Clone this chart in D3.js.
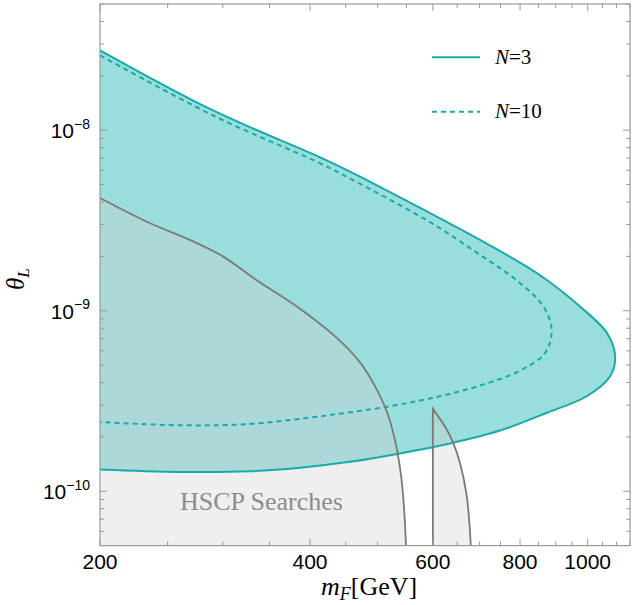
<html>
<head>
<script src="https://d3js.org/d3.v7.min.js"></script>
<style>
  body { margin: 0; background: #fff; }
  .tlabel { font-family: 'Liberation Sans', Arial, sans-serif; font-size: 21px; fill: #000; }
  .serif { font-family: 'Liberation Serif', 'Times New Roman', serif; }
</style>
</head>
<body>
<div id="chart"></div>
<script>
// N=3 contour: upper branch out to the nose, then lower branch back to 200 GeV
const n3Mass  = [200, 290, 413, 461, 594, 701, 819, 874, 975, 1065, 1095,
                 1077, 997, 874, 749, 635, 538, 456, 387, 328, 260, 200];
const n3Theta = [2.77e-8, 1.29e-8, 7.09e-9, 5.79e-9, 3.48e-9, 2.47e-9, 1.75e-9, 1.48e-9, 1.056e-9, 7.56e-10, 5.59e-10,
                 4.34e-10, 3.36e-10, 2.72e-10, 2.17e-10, 1.84e-10, 1.62e-10, 1.455e-10, 1.35e-10, 1.29e-10, 1.28e-10, 1.32e-10];

// N=10 contour (dashed)
const n10Mass  = [200, 290, 413, 461, 594, 701, 796, 864, 888, 869, 800, 701, 614, 521, 413, 328, 260, 200];
const n10Theta = [2.60e-8, 1.21e-8, 6.57e-9, 5.29e-9, 3.10e-9, 2.04e-9, 1.446e-9, 1.056e-9, 7.85e-10, 5.84e-10, 4.66e-10, 3.85e-10, 3.36e-10, 2.96e-10, 2.60e-10, 2.36e-10, 2.32e-10, 2.42e-10];

// HSCP exclusion boundaries
const hscpMass1  = [200, 236, 269, 300, 335, 383, 437, 472, 496, 516, 531, 541, 546, 549];
const hscpTheta1 = [4.21e-9, 3.05e-9, 2.47e-9, 2.0e-9, 1.48e-9, 1.056e-9, 7.07e-10, 5.16e-10, 3.80e-10, 2.73e-10, 1.82e-10, 1.165e-10, 7.65e-11, 5e-11];
const hscpMass2  = [600, 628, 641, 656, 671, 680];
const hscpTheta2 = [2.86e-10, 2.2e-10, 1.87e-10, 1.44e-10, 9.42e-11, 5e-11];

const xTickValues = [200, 400, 600, 800, 1000];
const yTickExps = [-10, -9, -8];
const legendN = ['3', '10'];

const width = 639, height = 605;
const margin = { top: 4, right: 9, bottom: 59.4, left: 100 };
const xMin = 200, xMax = 1150, yMin = 5e-11, yMax = 5e-8;

const teal = '#18aaaa', tealFill = '#99dedc', greyLine = '#7a7a7a', frameCol = '#9a9a9a';

const svg = d3.select('#chart').append('svg')
    .attr('width', width)
    .attr('height', height);

const x = d3.scaleLog().domain([xMin, xMax]).range([margin.left, width - margin.right]);
const y = d3.scaleLog().domain([yMin, yMax]).range([height - margin.bottom, margin.top]);

const zip = (ms, ts) => ms.map((m, i) => [m, ts[i]]);
const line = d3.line().x(d => x(d[0])).y(d => y(d[1])).curve(d3.curveCatmullRom.alpha(0.5));

svg.append('clipPath').attr('id', 'plot-clip')
  .append('rect')
    .attr('x', x(xMin)).attr('y', y(yMax))
    .attr('width', x(xMax) - x(xMin)).attr('height', y(yMin) - y(yMax));

const plot = svg.append('g').attr('clip-path', 'url(#plot-clip)');

// N=3 band
const n3Pts = zip(n3Mass, n3Theta);
plot.append('path')
    .attr('d', line(n3Pts) + 'Z')
    .attr('fill', tealFill);

// HSCP shaded regions (drawn over the band, translucent)
const h1 = zip(hscpMass1, hscpTheta1);
const h2 = zip(hscpMass2, hscpTheta2);
const h2Path = `M${x(600)},${y(yMin)}L` + line(h2).slice(1);
plot.append('path')
    .attr('d', line(h1) + `L${x(xMin)},${y(yMin)}Z`)
    .attr('fill', '#d2d2d2').attr('fill-opacity', 0.35);
plot.append('path')
    .attr('d', h2Path + 'Z')
    .attr('fill', '#d2d2d2').attr('fill-opacity', 0.35);

// HSCP label
plot.append('text')
    .attr('class', 'serif')
    .attr('x', 180).attr('y', 510)
    .attr('font-size', 26)
    .attr('fill', '#8c8c8c')
    .text('HSCP Searches');

// boundary lines
plot.append('path')
    .attr('d', line(n3Pts))
    .attr('fill', 'none').attr('stroke', teal).attr('stroke-width', 2);
plot.append('path')
    .attr('d', line(zip(n10Mass, n10Theta)))
    .attr('fill', 'none').attr('stroke', teal).attr('stroke-width', 2)
    .attr('stroke-dasharray', '5,4');
plot.append('path')
    .attr('d', line(h1))
    .attr('fill', 'none').attr('stroke', greyLine).attr('stroke-width', 1.8);
plot.append('path')
    .attr('d', h2Path)
    .attr('fill', 'none').attr('stroke', greyLine).attr('stroke-width', 1.8);

// frame
svg.append('rect')
    .attr('x', x(xMin)).attr('y', y(yMax))
    .attr('width', x(xMax) - x(xMin)).attr('height', y(yMin) - y(yMax))
    .attr('fill', 'none').attr('stroke', frameCol).attr('stroke-width', 1.2);

// ticks on all four sides, pointing inward
const ticks = svg.append('g').attr('stroke', frameCol).attr('stroke-width', 1);
const xMinor = d3.range(250, 1151, 50).filter(v => !xTickValues.includes(v));
xTickValues.concat(xMinor).forEach(v => {
  const len = xTickValues.includes(v) ? 7 : 4;
  ticks.append('line').attr('x1', x(v)).attr('x2', x(v)).attr('y1', y(yMin)).attr('y2', y(yMin) - len);
  ticks.append('line').attr('x1', x(v)).attr('x2', x(v)).attr('y1', y(yMax)).attr('y2', y(yMax) + len);
});
const yAll = [];
[-11, -10, -9, -8].forEach(e => d3.range(1, 10).forEach(k => {
  const v = k * Math.pow(10, e);
  if (v >= yMin * 0.999 && v <= yMax * 1.001) yAll.push([v, k === 1]);
}));
yAll.forEach(([v, major]) => {
  const len = major ? 7 : 4;
  ticks.append('line').attr('y1', y(v)).attr('y2', y(v)).attr('x1', x(xMin)).attr('x2', x(xMin) + len);
  ticks.append('line').attr('y1', y(v)).attr('y2', y(v)).attr('x1', x(xMax)).attr('x2', x(xMax) - len);
});

// tick labels
svg.selectAll('.xl').data(xTickValues).enter().append('text')
    .attr('class', 'tlabel')
    .attr('x', d => x(d)).attr('y', 569)
    .attr('text-anchor', 'middle')
    .text(d => d);

yTickExps.forEach(e => {
  const t = svg.append('text')
      .attr('class', 'tlabel')
      .attr('x', 90).attr('y', y(Math.pow(10, e)) + 8)
      .attr('text-anchor', 'end');
  t.append('tspan').text('10');
  t.append('tspan').attr('font-size', 14).attr('dy', -9.5).text('\u2212' + (-e));
});

// axis titles
const xt = svg.append('text').attr('class', 'serif').attr('x', 321).attr('y', 595).attr('font-size', 26);
xt.append('tspan').attr('font-style', 'italic').text('m');
xt.append('tspan').attr('font-style', 'italic').attr('font-size', 18).attr('dy', 5).text('F');
xt.append('tspan').attr('dy', -5).text('[GeV]');

const yt = svg.append('text').attr('class', 'serif').attr('font-size', 25)
    .attr('transform', 'translate(24,290) rotate(-90)');
yt.append('tspan').attr('font-style', 'italic').text('\u03b8');
yt.append('tspan').attr('font-style', 'italic').attr('font-size', 17).attr('dy', 5).text('L');

// legend
legendN.forEach((n, i) => {
  const ly = 57.3 + i * 54.4;
  svg.append('line')
      .attr('x1', 432).attr('x2', 480).attr('y1', ly).attr('y2', ly)
      .attr('stroke', teal).attr('stroke-width', 2)
      .attr('stroke-dasharray', i === 0 ? null : '5,4');
  const lt = svg.append('text').attr('class', 'serif').attr('x', 495).attr('y', ly + 6.5).attr('font-size', 21);
  lt.append('tspan').attr('font-style', 'italic').text('N');
  lt.append('tspan').text('=' + n);
});
</script>
</body>
</html>
